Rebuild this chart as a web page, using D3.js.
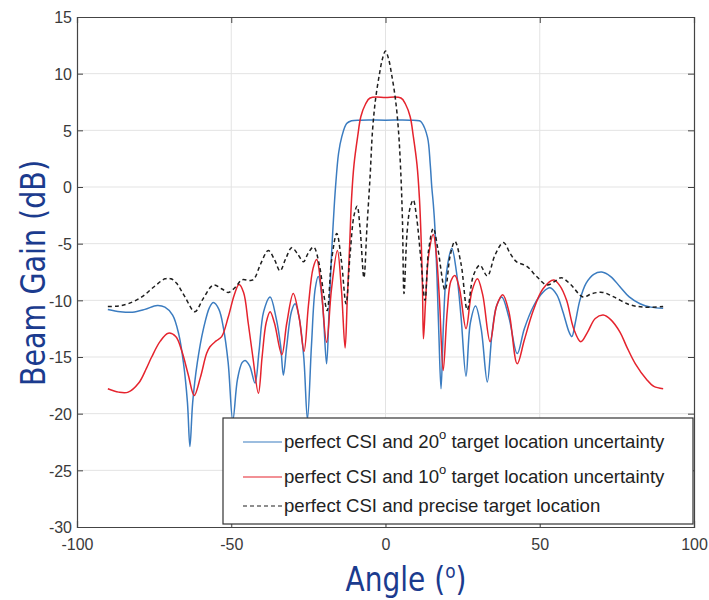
<!DOCTYPE html>
<html><head><meta charset="utf-8">
<script src="https://cdn.jsdelivr.net/npm/d3@7/dist/d3.min.js"></script>
<style>body{margin:0;background:#fff}</style>
</head><body>
<svg id="chart" width="709" height="600"></svg>
<script>
// ---- data ----
const xTicks = [-100, -50, 0, 50, 100];
const yTicks = [15, 10, 5, 0, -5, -10, -15, -20, -25, -30];
const seriesNames = [
  ["perfect CSI and 20", "o", " target location uncertainty"],
  ["perfect CSI and 10", "o", " target location uncertainty"],
  ["perfect CSI and precise target location", "", ""]
];
const blueAngle = [-90,-86,-82,-78,-74,-71.5,-69,-67,-65.5,-64.2,-63.4,-62.5,-61,-59,-57,-55.8,-54,-52.5,-51,-49.5,-48,-46.5,-45.5,-44,-42.3,-41,-39.5,-37.4,-35.5,-34,-33.1,-32,-30.5,-29.3,-28,-26.5,-25.3,-24,-22.8,-21.8,-20.5,-19.1,-18.3,-17.5,-16.9,-16.2,-15.2,-14.2,-12.6,-11,-8,0,8,11,11.7,13.6,14.5,15,15.5,16,16.7,17.3,18,18.8,19.8,21.5,23,24.5,26.1,27.5,29.2,31,33,34.5,36,37.7,40,42.7,45,48,51,53.3,55.5,57.5,59.5,60.4,61.5,63,65,67.5,70.1,73,76,79,82.5,86,90];
const blueGain  = [-10.8,-11.0,-11.05,-10.8,-10.45,-10.6,-11.3,-13.0,-15.5,-19,-22.9,-19,-15.5,-12.5,-10.6,-10.2,-10.8,-12.5,-15.5,-20.6,-17,-15.5,-15.3,-15.8,-17.3,-14.5,-11,-9.7,-11.5,-14,-16.6,-14,-11,-10.3,-11.5,-15,-20.5,-14,-9,-7.9,-10,-15.6,-11,-6,-3,0,3,4.4,5.6,5.85,5.9,5.9,5.9,5.85,5.7,4.4,2,0,-1.5,-3.5,-8,-13,-17.8,-12,-7.5,-5.4,-7.5,-11.5,-16.7,-12,-10.5,-12.5,-17.2,-13,-10.5,-9.7,-11.5,-14.7,-12.5,-10.5,-9.3,-8.9,-9.5,-11,-12.8,-13.2,-12,-10,-8.5,-7.7,-7.5,-7.9,-8.8,-9.7,-10.3,-10.6,-10.7];
const redAngle = [-90,-86.5,-83.4,-80,-77.5,-75.8,-73,-70.4,-68,-66,-64,-62,-60,-58,-56.9,-55,-53.1,-51,-49,-47.5,-46,-44.5,-43,-41.2,-40,-38.7,-37.4,-36,-33.6,-32,-29.9,-28,-26.4,-25,-23.5,-22.3,-21,-19.1,-17.5,-15.6,-14.3,-13.1,-12.4,-11.6,-11,-10.2,-9,-8,-6.5,-5,0,5,6.5,8,9,10.2,11,11.6,12,12.3,13,14,15.5,16.5,17.5,18.7,20,21.2,22.5,24,26.1,28,29.8,31.5,33.9,36,38,40,42.7,45,47.9,51,54.5,56.5,58.7,61,63.3,65.5,68,70.6,73,76,78.2,81,84.7,87,90];
const redGain  = [-17.8,-18.1,-18.1,-17.3,-16,-15,-13.6,-12.9,-13.2,-14.5,-16.5,-18.4,-16.8,-14.7,-14.1,-13.6,-13.2,-11.5,-9.5,-8.6,-9.3,-12,-15,-18.2,-15,-12,-11.0,-12,-14.8,-12,-9.4,-11.5,-14.5,-10.5,-7.2,-6.4,-8.5,-13.7,-9,-5.6,-9,-14.2,-10,-5,-1,2,4.5,6.2,7.3,7.85,7.9,7.85,7.3,6.2,4.5,2,-1,-5,-9,-13.4,-10,-6,-4.2,-6,-10,-16.2,-11,-8.3,-7.8,-9,-12.5,-9.2,-8.1,-9.5,-13.65,-10.5,-9.5,-11,-15.6,-13.5,-10.9,-9,-8.2,-8.7,-10,-12.5,-13.65,-12.8,-11.6,-11.3,-11.7,-12.8,-14.1,-15.6,-17.0,-17.6,-17.8];
const blackAngle = [-90,-86.5,-83.4,-79,-75,-71.5,-69.5,-67.7,-65,-61.8,-59,-55.8,-53,-51,-48.5,-46.6,-43,-40.5,-38,-36,-34.2,-32.3,-30.4,-28.5,-26.6,-25,-23.3,-21.5,-20,-18.9,-17.5,-15.8,-14.3,-12.8,-11.5,-10.2,-9.2,-8.2,-7.0,-6.0,-5.0,-4.2,-3.2,-2,-1,0,1,2,3.2,4.2,5.0,5.5,6.0,7,8,9.0,10,11.5,12.8,14,15.5,17,19.3,21,22.5,24.5,26.5,28.5,30.6,33.0,35.5,38.2,40.5,42.5,45.8,49,52.3,55,57,60,64,67,70.4,74,79.3,84,90];
const blackGain  = [-10.55,-10.5,-10.3,-9.7,-8.8,-8.1,-8.1,-8.5,-9.7,-11.0,-9.8,-8.65,-9.0,-9.3,-8.8,-8.2,-8.2,-6.8,-5.6,-6.4,-7.4,-6.3,-5.35,-5.9,-6.6,-5.8,-5.3,-6.8,-9.5,-10.9,-6.5,-4.1,-6.5,-10.3,-6,-2.5,-1.7,-3.8,-8.0,-3.5,0.9,5,7.8,9.9,11.3,12,11.3,9.9,7.8,5,1,-3,-9.4,-4,-1.8,-1.15,-2.5,-6.5,-10.0,-5.5,-3.65,-5.5,-9.1,-6,-4.8,-6.8,-10.85,-7.8,-6.9,-7.85,-6,-4.9,-5.9,-6.6,-7.0,-7.9,-8.65,-8.3,-8.0,-8.6,-9.7,-9.4,-9.3,-9.7,-10.4,-10.6,-10.55];

// ---- layout ----
const svg = d3.select("#chart");
const L = 77, R = 694, T = 17, B = 527;
const x = d3.scaleLinear().domain([-100, 100]).range([L, R]);
const y = d3.scaleLinear().domain([-30, 15]).range([B, T]);

// grid
const g = svg.append("g");
g.selectAll(".gx").data(xTicks.slice(1, -1)).enter().append("line")
  .attr("x1", d => x(d)).attr("x2", d => x(d)).attr("y1", T).attr("y2", B)
  .attr("stroke", "#e3e3e3").attr("stroke-width", 1);
g.selectAll(".gy").data(yTicks.slice(1, -1)).enter().append("line")
  .attr("y1", d => y(d)).attr("y2", d => y(d)).attr("x1", L).attr("x2", R)
  .attr("stroke", "#e3e3e3").attr("stroke-width", 1);

// axes
const fontTick = "'Liberation Sans', Arial, sans-serif";
const fmt = d => String(d);
const axB = svg.append("g").attr("transform", `translate(0,${B})`)
  .call(d3.axisBottom(x).tickValues(xTicks).tickSize(-6).tickPadding(12).tickFormat(fmt));
const axT = svg.append("g").attr("transform", `translate(0,${T})`)
  .call(d3.axisTop(x).tickValues(xTicks).tickSize(-6).tickFormat(""));
const axL = svg.append("g").attr("transform", `translate(${L},0)`)
  .call(d3.axisLeft(y).tickValues(yTicks).tickSize(-6).tickPadding(5).tickFormat(fmt));
const axR = svg.append("g").attr("transform", `translate(${R},0)`)
  .call(d3.axisRight(y).tickValues(yTicks).tickSize(-6).tickFormat(""));
[axB, axT, axL, axR].forEach(a => {
  a.select(".domain").attr("stroke", "#444").attr("stroke-width", 1.2);
  a.selectAll(".tick line").attr("stroke", "#444");
  a.selectAll("text").attr("font-family", fontTick).attr("font-size", 16).attr("fill", "#3a3a3a");
});
axL.selectAll("text").attr("dy", "0.36em");

// lines
const line = d3.line().x(d => x(d[0])).y(d => y(d[1])).curve(d3.curveCatmullRom.alpha(0.5));
const series = [
  {a: blueAngle, v: blueGain, color: "#3b7cc0", dash: null},
  {a: redAngle, v: redGain, color: "#e5232d", dash: null},
  {a: blackAngle, v: blackGain, color: "#1e1e1e", dash: "4,3"}
];
svg.append("clipPath").attr("id", "clp").append("rect")
  .attr("x", L).attr("y", T).attr("width", R - L).attr("height", B - T);
series.forEach(s => {
  svg.append("path").datum(d3.zip(s.a, s.v))
    .attr("d", line).attr("fill", "none")
    .attr("stroke", s.color).attr("stroke-width", 1.5)
    .attr("stroke-dasharray", s.dash).attr("clip-path", "url(#clp)");
});

// legend
const lg = svg.append("g");
lg.append("rect").attr("x", 223).attr("y", 418).attr("width", 470).attr("height", 106)
  .attr("fill", "#fff").attr("stroke", "#333").attr("stroke-width", 1.2);
const rowY = [442, 477, 506];
series.forEach((s, i) => {
  lg.append("line").attr("x1", 243).attr("x2", 282).attr("y1", rowY[i]).attr("y2", rowY[i])
    .attr("stroke", s.color).attr("stroke-width", 1.2).attr("stroke-dasharray", s.dash);
  const t = lg.append("text").attr("x", 284).attr("y", rowY[i] + 6)
    .attr("font-family", fontTick).attr("font-size", 18.6).attr("fill", "#222");
  t.append("tspan").text(seriesNames[i][0]);
  if (seriesNames[i][1]) {
    t.append("tspan").attr("font-size", 13).attr("dy", -9).text(seriesNames[i][1]);
    t.append("tspan").attr("dy", 9).text(seriesNames[i][2]);
  }
});

// axis titles
const titleFont = "'DejaVu Sans', Verdana, sans-serif";
svg.append("text").attr("transform", "translate(45,273) rotate(-90) scale(0.84,1)")
  .attr("text-anchor", "middle").attr("font-family", titleFont).attr("font-size", 34)
  .attr("fill", "#1b3b8e").text("Beam Gain (dB)");
const xt = svg.append("text").attr("transform", "translate(406,591) scale(0.85,1)")
  .attr("text-anchor", "middle")
  .attr("font-family", titleFont).attr("font-size", 33).attr("fill", "#1b3b8e");
xt.append("tspan").text("Angle (");
xt.append("tspan").attr("font-size", 20).attr("dy", -13).text("o");
xt.append("tspan").attr("dy", 13).text(")");
</script>
</body></html>
